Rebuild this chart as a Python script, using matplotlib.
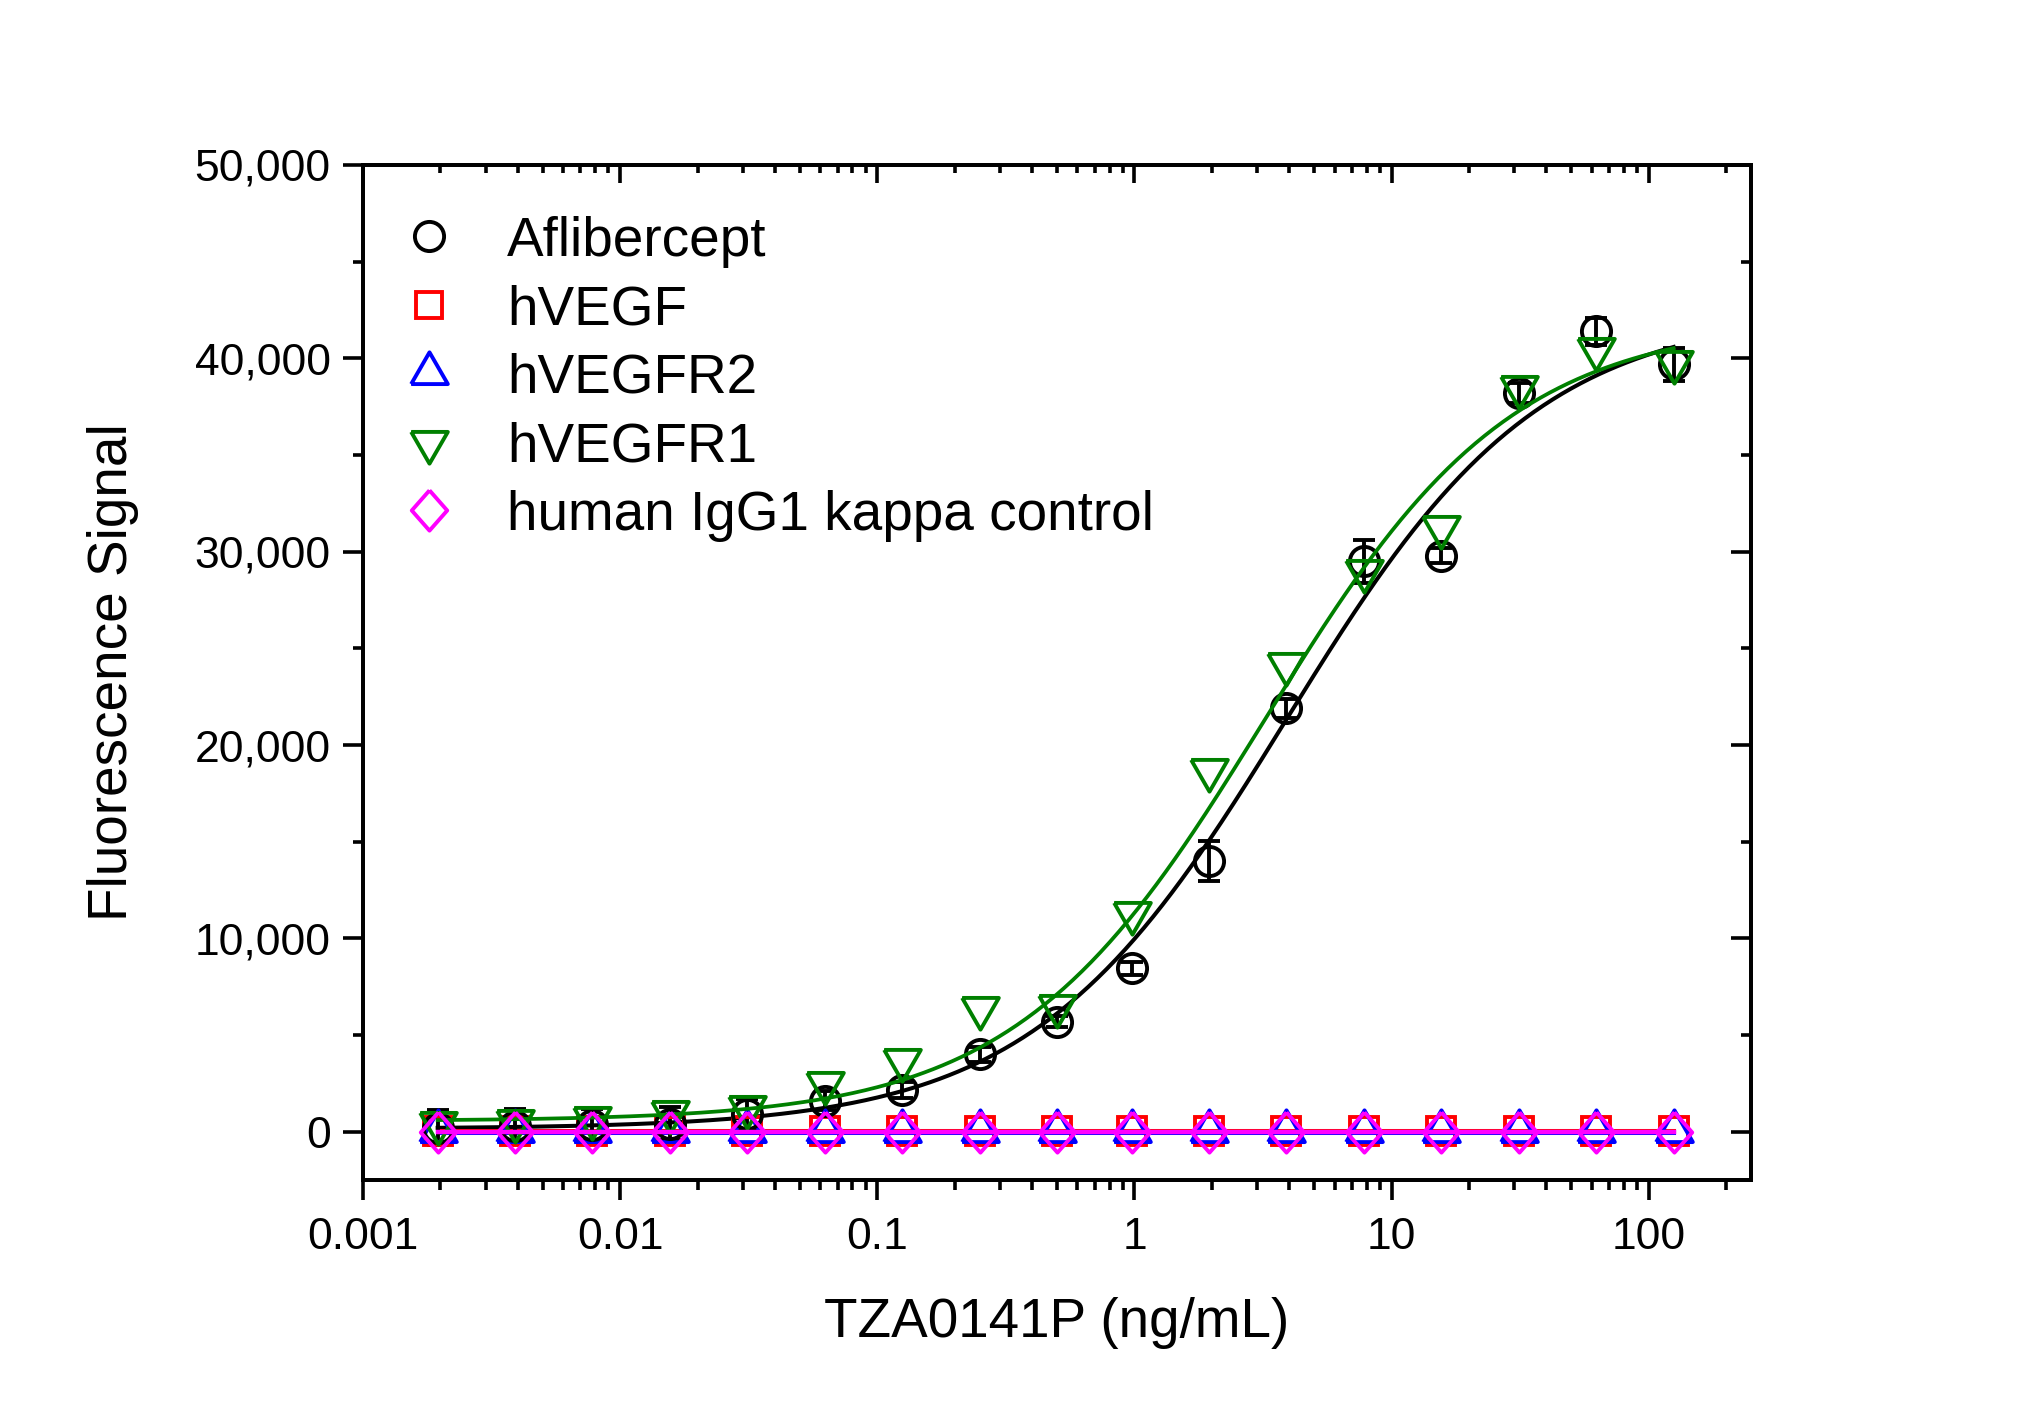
import matplotlib
matplotlib.use('Agg')
import matplotlib.pyplot as plt
import numpy as np
from matplotlib.lines import Line2D
from matplotlib.ticker import MultipleLocator, LogLocator, FuncFormatter, NullFormatter, FixedLocator

plt.rcParams['font.family'] = ['Liberation Sans', 'DejaVu Sans']

# concentrations, 2-fold dilution from 125 ng/mL
conc = [0.00195, 0.0039, 0.0078, 0.0156, 0.03125, 0.0625, 0.125, 0.25, 0.5,
        0.98, 1.95, 3.9, 7.8, 15.6, 31.25, 62.5, 125]

aflibercept = [200, 300, 350, 420, 900, 1600, 2150, 4000, 5700,
               8450, 14000, 21900, 29500, 29800, 38200, 41400, 39700]
aflibercept_err = [900, 880, 820, 850, 800, 500, 400, 400, 300,
                   350, 1050, 500, 1100, 400, 500, 700, 850]
hvegf = [60, 60, 60, 60, 60, 60, 60, 60, 60, 60, 60, 60, 60, 60, 60, 60, 60]
hvegfr2 = [30, 30, 30, 30, 30, 30, 30, 30, 30, 30, 30, 30, 30, 30, 30, 30, 30]
hvegfr1 = [450, 550, 700, 1000, 1300, 2500, 3700, 6400, 6500,
           11300, 18700, 24200, 29000, 31300, 38500, 40500, 39800]
igg = [0, 0, 0, 0, 0, 0, 0, 0, 0, 0, 0, 0, 0, 0, 0, 0, 0]

# 4PL fit parameters (bottom, top, EC50, hill)
fit_afli = (150, 42500, 3.9, 0.88)
fit_r1 = (550, 42000, 3.2, 0.9)


def four_pl(x, b, t, c, h):
    return b + (t - b) / (1 + (c / x) ** h)


# equilateral triangles centred on their centroid, slightly tall diamond
tri_up = [(-1, -0.577), (1, -0.577), (0, 1.155), (-1, -0.577)]
tri_down = [(-1, 0.577), (1, 0.577), (0, -1.155), (-1, 0.577)]
diamond = [(0, 1), (0.88, 0), (0, -1), (-0.88, 0), (0, 1)]

fig = plt.figure(figsize=(20.34, 14.17), dpi=100)
ax = fig.add_axes([0.1785, 0.1672, 0.6824, 0.7164])

xs = np.logspace(np.log10(conc[0]), np.log10(conc[-1]), 400)
lw = 2.9
mew = 2.8
green = '#008000'
magenta = '#FF00FF'

# black series
ax.plot(xs, four_pl(xs, *fit_afli), color='black', lw=lw, zorder=2)
ax.errorbar(conc, aflibercept, yerr=aflibercept_err, fmt='o', ms=21, mfc='none',
            mec='black', mew=mew, ecolor='black', elinewidth=2.8, capsize=8,
            capthick=2.8, zorder=3)
# red
ax.plot(xs, np.full_like(xs, np.mean(hvegf)), color='red', lw=lw, zorder=2)
ax.plot(conc, hvegf, ls='none', marker='s', ms=20, mfc='none', mec='red', mew=mew, zorder=3)
# blue
ax.plot(xs, np.full_like(xs, np.mean(hvegfr2) - 80), color='blue', lw=lw, zorder=2)
ax.plot(conc, hvegfr2, ls='none', marker=tri_up, ms=30.5, mfc='none', mec='blue', mew=mew, zorder=3)
# green
ax.plot(xs, four_pl(xs, *fit_r1), color=green, lw=2.7, zorder=4)
ax.plot(conc, hvegfr1, ls='none', marker=tri_down, ms=30.5, mfc='none', mec=green, mew=mew, zorder=4)
# magenta
ax.plot(xs, np.full_like(xs, np.mean(igg)), color=magenta, lw=3.2, zorder=5)
ax.plot(conc, igg, ls='none', marker=diamond, ms=29, mfc='none', mec=magenta, mew=mew, zorder=5)

ax.set_xscale('log')
ax.set_xlim(0.001, 250)
ax.set_ylim(-2500, 50000)

ax.xaxis.set_major_locator(FixedLocator([0.001, 0.01, 0.1, 1, 10, 100]))
ax.xaxis.set_major_formatter(FuncFormatter(lambda v, p: '{:g}'.format(v)))
ax.xaxis.set_minor_locator(LogLocator(base=10, subs=np.arange(2, 10), numticks=20))
ax.xaxis.set_minor_formatter(NullFormatter())
ax.yaxis.set_major_locator(MultipleLocator(10000))
ax.yaxis.set_minor_locator(MultipleLocator(5000))
ax.yaxis.set_major_formatter(FuncFormatter(lambda v, p: '{:,.0f}'.format(v)))

sw = 2.6
ax.tick_params(which='major', direction='out', length=14.4, width=sw, labelsize=32)
ax.tick_params(axis='x', which='major', pad=12)
ax.tick_params(axis='y', which='major', pad=9)
ax.tick_params(which='minor', direction='out', length=7.2, width=sw)
for s in ax.spines.values():
    s.set_linewidth(sw)

# top and right ticks point inward
axt = ax.twiny()
axt.set_xscale('log')
axt.set_xlim(ax.get_xlim())
axt.xaxis.set_major_locator(FixedLocator([0.001, 0.01, 0.1, 1, 10, 100]))
axt.xaxis.set_minor_locator(LogLocator(base=10, subs=np.arange(2, 10), numticks=20))
axt.xaxis.set_major_formatter(NullFormatter())
axt.xaxis.set_minor_formatter(NullFormatter())
axt.tick_params(which='major', direction='in', length=13, width=sw)
axt.tick_params(which='minor', direction='in', length=6, width=sw)

axr = ax.twinx()
axr.set_ylim(ax.get_ylim())
axr.yaxis.set_major_locator(MultipleLocator(10000))
axr.yaxis.set_minor_locator(MultipleLocator(5000))
axr.yaxis.set_major_formatter(NullFormatter())
axr.tick_params(which='major', direction='in', length=14.4, width=sw)
axr.tick_params(which='minor', direction='in', length=7.2, width=sw)
for a in (axt, axr):
    for s in a.spines.values():
        s.set_linewidth(sw)

ax.set_xlabel('TZA0141P (ng/mL)', fontsize=39.5, labelpad=28)
ax.set_ylabel('Fluorescence Signal', fontsize=39.5, labelpad=40)

labels = ['Aflibercept', 'hVEGF', 'hVEGFR2', 'hVEGFR1', 'human IgG1 kappa control']
handles = [
    Line2D([], [], ls='none', marker='o', ms=21, mfc='none', mec='black', mew=mew),
    Line2D([], [], ls='none', marker='s', ms=19, mfc='none', mec='red', mew=mew),
    Line2D([], [], ls='none', marker=tri_up, ms=30.5, mfc='none', mec='blue', mew=mew),
    Line2D([], [], ls='none', marker=tri_down, ms=30.5, mfc='none', mec=green, mew=mew),
    Line2D([], [], ls='none', marker=diamond, ms=29, mfc='none', mec=magenta, mew=mew),
]
leg = axr.legend(handles, labels, loc='upper left', bbox_to_anchor=(0.028, 0.950),
                 frameon=False, fontsize=39.5, handlelength=1.0, handletextpad=0.92,
                 labelspacing=0.30, borderaxespad=0, borderpad=0, numpoints=1)

fig.savefig('out.png', dpi=100)
